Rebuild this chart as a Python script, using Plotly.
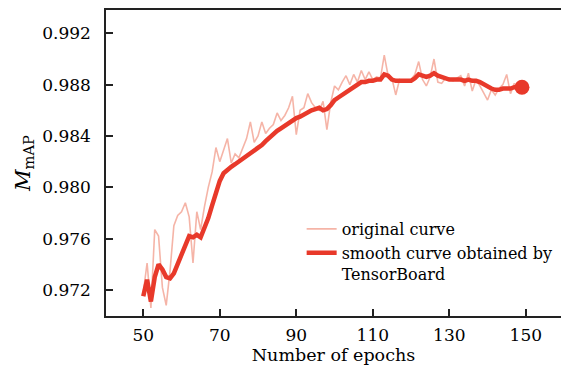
import plotly.graph_objects as go

epochs = list(range(50, 150))

original_curve = [
    0.9718, 0.9741, 0.9706, 0.9767, 0.9762, 0.9722, 0.9708, 0.9735, 0.9770, 0.9778,
    0.9781, 0.9788, 0.9777, 0.9741, 0.9781, 0.9767, 0.9785, 0.9800, 0.9812, 0.9831,
    0.9820, 0.9829, 0.9838, 0.9819, 0.9826, 0.9823, 0.9830, 0.9838, 0.9851, 0.9835,
    0.9840, 0.9851, 0.9842, 0.9846, 0.9849, 0.9858, 0.9852, 0.9856, 0.9862, 0.9871,
    0.9841, 0.9860, 0.9862, 0.9873, 0.9866, 0.9862, 0.9860, 0.9867, 0.9845, 0.9866,
    0.9879, 0.9876, 0.9882, 0.9887, 0.9880, 0.9888, 0.9882, 0.9891, 0.9884, 0.9890,
    0.9884, 0.9886, 0.9885, 0.9903, 0.9887, 0.9885, 0.9872, 0.9884, 0.9883, 0.9882,
    0.9884, 0.9888, 0.9898, 0.9884, 0.9879, 0.9886, 0.9900, 0.9882, 0.9881, 0.9885,
    0.9884, 0.9883, 0.9885, 0.9887, 0.9879, 0.9889, 0.9875, 0.9884, 0.9879, 0.9873,
    0.9868, 0.9876, 0.9872, 0.9877, 0.9880, 0.9888, 0.9873, 0.9881, 0.9877, 0.9879,
]

smooth_curve = [
    0.9715, 0.9728, 0.9711, 0.9730, 0.9740, 0.9736, 0.9730, 0.9729, 0.9733, 0.9740,
    0.9747, 0.9755, 0.9762, 0.9761, 0.9763, 0.9761, 0.9768, 0.9776, 0.9786, 0.9797,
    0.9805, 0.9811, 0.9814, 0.9816, 0.9818, 0.9820, 0.9822, 0.9824, 0.9827, 0.9829,
    0.9831, 0.9833, 0.9836, 0.9839, 0.9841, 0.9844, 0.9846, 0.9848, 0.9851, 0.9853,
    0.9854, 0.9855, 0.9857, 0.9858, 0.9860, 0.9861, 0.9862, 0.9860, 0.9861, 0.9864,
    0.9868, 0.9870, 0.9872, 0.9875, 0.9877, 0.9879, 0.9881, 0.9882, 0.9882, 0.9883,
    0.9883, 0.9884, 0.9884, 0.9888, 0.9887, 0.9884, 0.9883, 0.9883, 0.9883, 0.9883,
    0.9883, 0.9885, 0.9888, 0.9887, 0.9886, 0.9887, 0.9889, 0.9887, 0.9886, 0.9885,
    0.9884, 0.9884, 0.9884, 0.9884, 0.9883, 0.9884, 0.9883, 0.9883, 0.9882, 0.9880,
    0.9878, 0.9877, 0.9876, 0.9876, 0.9877, 0.9877, 0.9877, 0.9878, 0.9878, 0.9878,
]

x_ticks = [50, 70, 90, 110, 130, 150]
y_ticks = [0.972, 0.976, 0.980, 0.984, 0.988, 0.992]
y_tick_labels = ["0.972", "0.976", "0.980", "0.984", "0.988", "0.992"]

FONT = "DejaVu Serif"
SMOOTH_COLOR = "#e8392a"
ORIG_COLOR = "rgba(240,140,120,0.65)"
TEXT_COLOR = "#000"

fig = go.Figure()
fig.add_trace(go.Scatter(
    x=epochs, y=original_curve, mode="lines", name="original curve",
    line=dict(color=ORIG_COLOR, width=1.6),
))
fig.add_trace(go.Scatter(
    x=epochs, y=smooth_curve, mode="lines",
    name="smooth curve obtained by<br>TensorBoard",
    line=dict(color=SMOOTH_COLOR, width=4.5),
))
fig.add_trace(go.Scatter(
    x=[epochs[-1]], y=[smooth_curve[-1]], mode="markers", showlegend=False,
    marker=dict(color=SMOOTH_COLOR, size=15),
))

fig.update_layout(
    width=561, height=372,
    margin=dict(l=106, r=0, t=10, b=56),
    paper_bgcolor="white", plot_bgcolor="white",
    font=dict(family=FONT, size=16, color=TEXT_COLOR),
    showlegend=True,
    legend=dict(
        x=0.43, y=0.34, xanchor="left", yanchor="top",
        bgcolor="rgba(0,0,0,0)", font=dict(family=FONT, size=16, color=TEXT_COLOR),
        valign="top", tracegroupgap=0, itemwidth=30,
    ),
    xaxis=dict(
        range=[40.26, 159.2], tickvals=x_ticks,
        ticks="inside", ticklen=7, tickwidth=1.5, tickcolor="#222",
        showline=True, linecolor="#222", linewidth=1.5, mirror=True,
        showgrid=False, zeroline=False,
        tickfont=dict(family=FONT, size=17, color=TEXT_COLOR),
        title=dict(text="Number of epochs", font=dict(family=FONT, size=17.5, color=TEXT_COLOR), standoff=4),
        ticklabelstandoff=3,
    ),
    yaxis=dict(
        range=[0.96997, 0.99382], tickvals=y_ticks, ticktext=y_tick_labels,
        ticks="inside", ticklen=7, tickwidth=1.5, tickcolor="#222",
        showline=True, linecolor="#222", linewidth=1.5,
        showgrid=False, zeroline=False,
        tickfont=dict(family=FONT, size=17, color=TEXT_COLOR),
        title=dict(text="<i>M</i><sub>mAP</sub>", font=dict(family=FONT, size=21, color=TEXT_COLOR), standoff=6),
        ticklabelstandoff=10,
    ),
)

fig.write_html("out.html")
